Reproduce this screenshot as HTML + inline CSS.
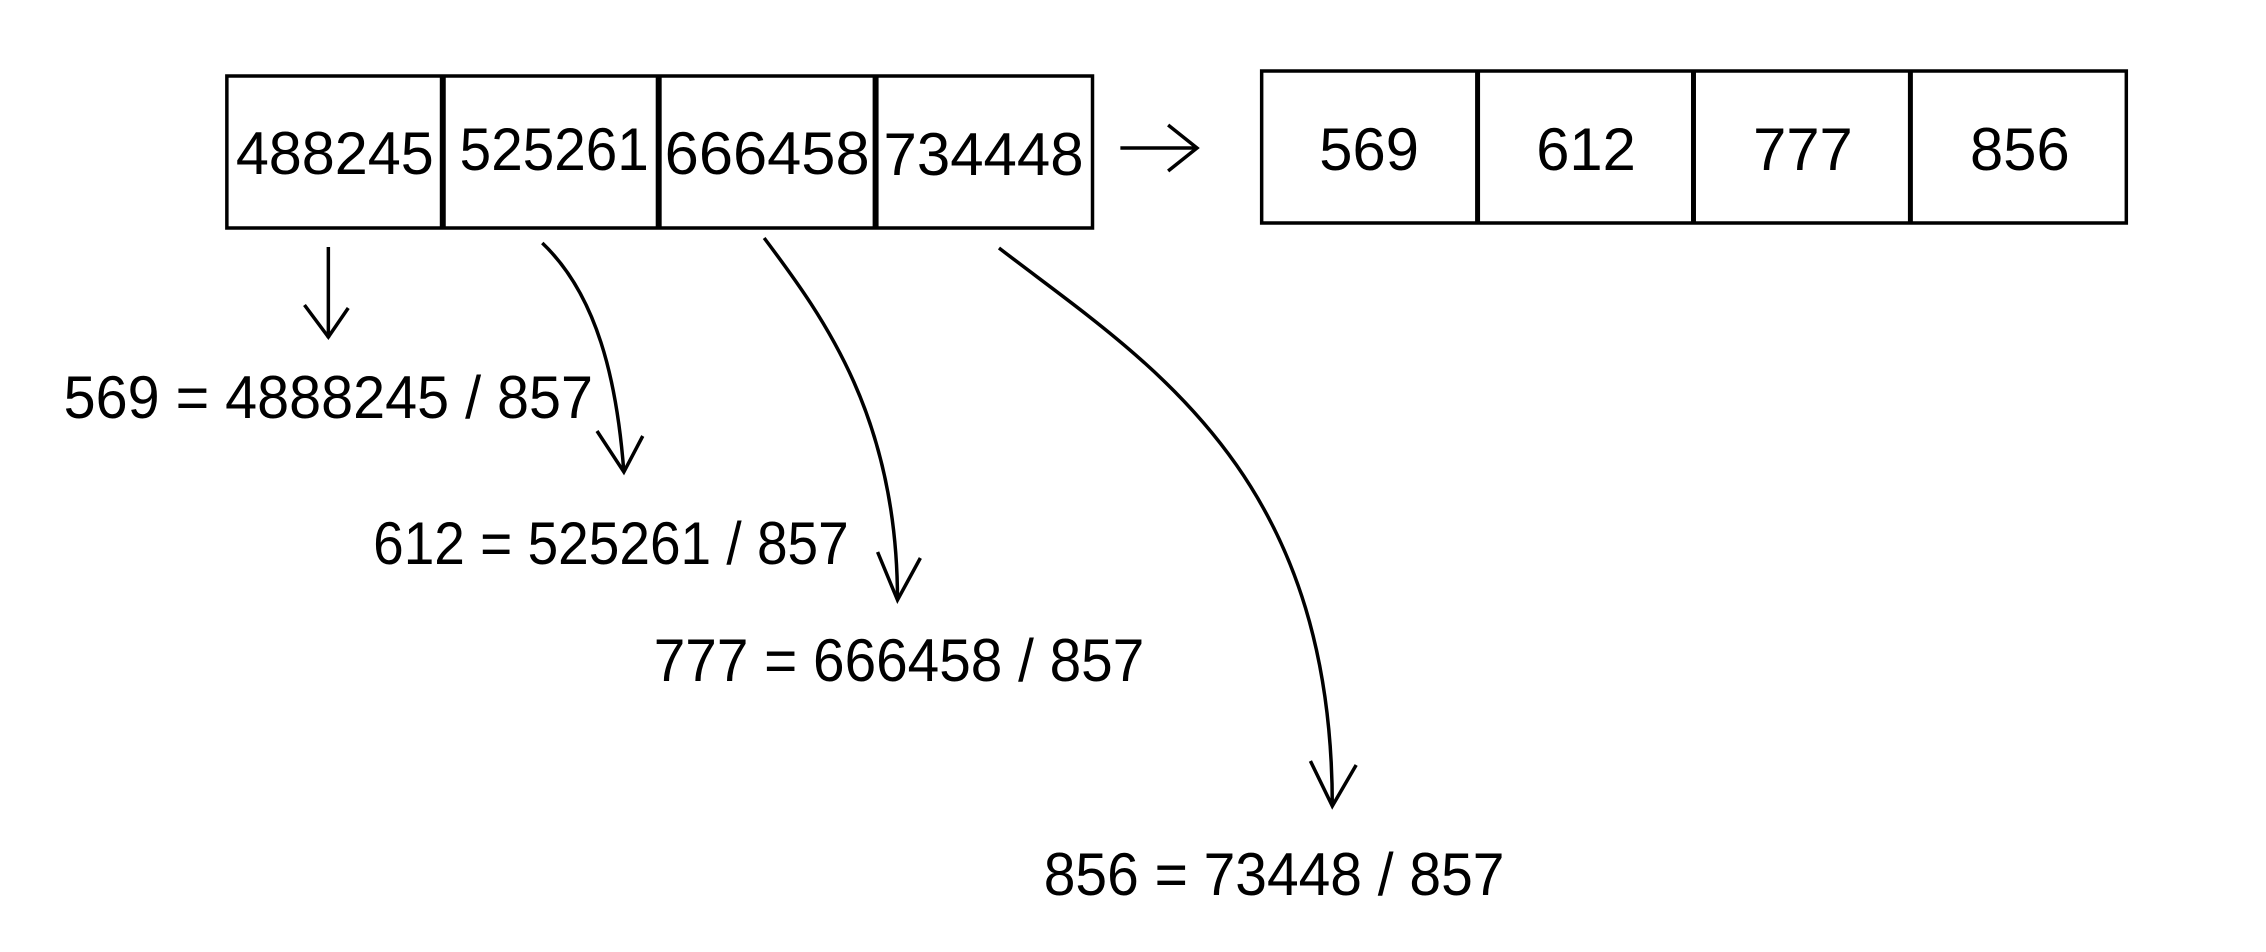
<!DOCTYPE html>
<html><head><meta charset="utf-8"><style>html,body{margin:0;padding:0;background:#fff}svg{display:block}</style></head>
<body>
<svg width="2266" height="952" viewBox="0 0 2266 952" xmlns="http://www.w3.org/2000/svg" font-family="'Liberation Sans', sans-serif" font-size="60" fill="#000">
<g transform="scale(0.995,1)">
<g fill="none" stroke="#000" stroke-width="3.5">
<rect x="228" y="76" width="870" height="152"/>
<line x1="445" y1="76" x2="445" y2="228" stroke-width="6"/>
<line x1="662" y1="76" x2="662" y2="228" stroke-width="6"/>
<line x1="880" y1="76" x2="880" y2="228" stroke-width="6"/>
<rect x="1268" y="71" width="869" height="152"/>
<line x1="1485" y1="71" x2="1485" y2="223" stroke-width="5"/>
<line x1="1702" y1="71" x2="1702" y2="223" stroke-width="5"/>
<line x1="1920" y1="71" x2="1920" y2="223" stroke-width="5"/>
<line x1="1126" y1="148" x2="1203" y2="148"/>
<polyline points="1174,125 1203,148 1174,171"/>
<line x1="330" y1="247" x2="330" y2="338"/>
<polyline points="306,305 330,337 350,308"/>
<path d="M545,243 C600,295 620,380 627,472"/>
<polyline points="600,431 627,472 646,436"/>
<path d="M768,238 C830,320 902,420 902,600"/>
<polyline points="882,552 902,600 925,558"/>
<path d="M1004,248 C1150,360 1339,470 1339,806"/>
<polyline points="1317,761 1339,806 1363,765"/>
</g>
<g text-anchor="start" stroke="none">
<text x="237" y="174" textLength="199" lengthAdjust="spacingAndGlyphs">488245</text>
<text x="462" y="170" textLength="190" lengthAdjust="spacingAndGlyphs">525261</text>
<text x="668" y="174" textLength="206" lengthAdjust="spacingAndGlyphs">666458</text>
<text x="888" y="175" textLength="201" lengthAdjust="spacingAndGlyphs">734448</text>
</g>
<g text-anchor="middle">
<text x="1376" y="170">569</text>
<text x="1594" y="170">612</text>
<text x="1812" y="170">777</text>
<text x="2030" y="170">856</text>
</g>
<text x="64" y="418" textLength="532" lengthAdjust="spacingAndGlyphs">569 = 4888245 / 857</text>
<text x="375" y="564" textLength="478" lengthAdjust="spacingAndGlyphs">612 = 525261 / 857</text>
<text x="657" y="681" textLength="493" lengthAdjust="spacingAndGlyphs">777 = 666458 / 857</text>
<text x="1049" y="895" textLength="463" lengthAdjust="spacingAndGlyphs">856 = 73448 / 857</text>
</g>
</svg>
</body></html>
